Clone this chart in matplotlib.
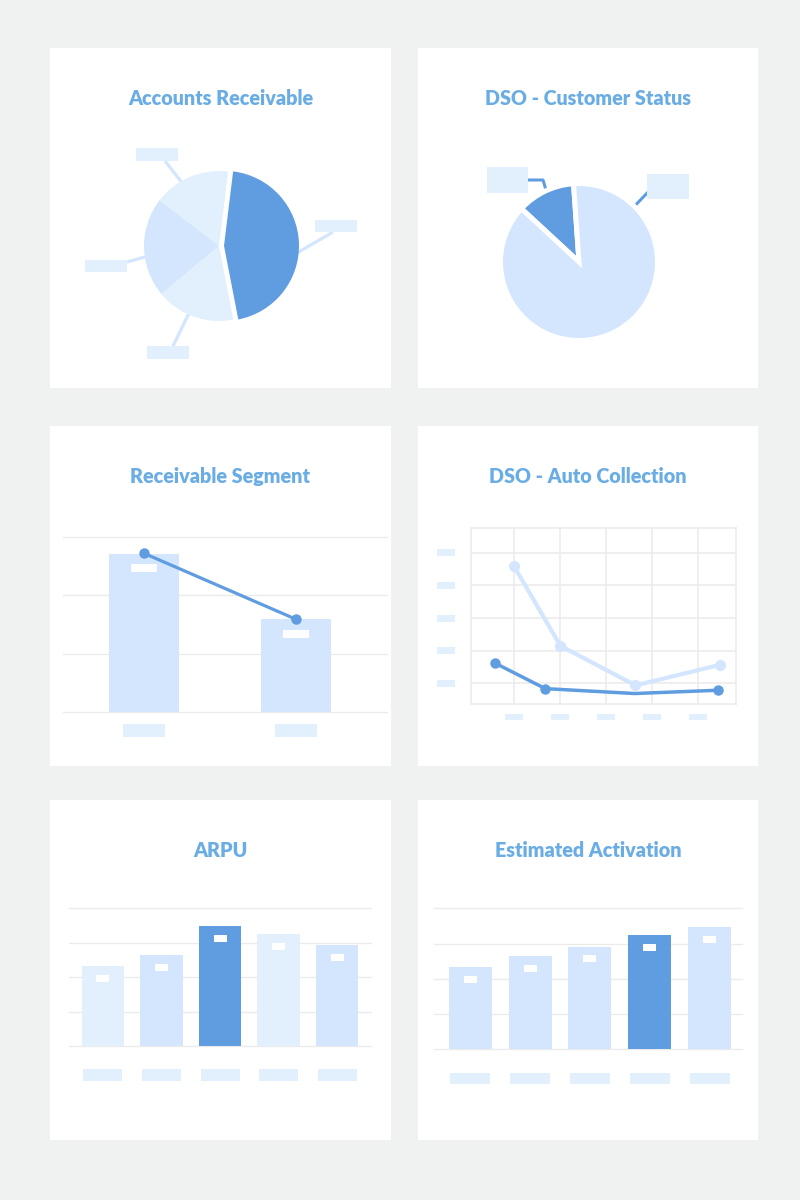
import numpy as np
import matplotlib
matplotlib.use("Agg")
import matplotlib.pyplot as plt
from matplotlib.patches import Rectangle

W, H = 800, 1200

BG = "#f0f2f2"
DARK = "#5f9de0"
MID = "#d3e6fd"
LIGHT = "#e2effd"
GRID = "#ebebeb"
TITLE = "#6aade4"

plt.rcParams["font.family"] = ["Lato", "DejaVu Sans"]

# ── data ──
titles = ["Accounts Receivable", "DSO - Customer Status", "Receivable Segment",
          "DSO - Auto Collection", "ARPU", "Estimated Activation"]

ar_shares = [45, 16.5, 21.5, 17]
ar_colors = [DARK, LIGHT, MID, LIGHT]

status_shares = [12, 88]
status_colors = [DARK, MID]

segment_bars = [2.71, 1.59]
segment_line = [2.72, 1.59]

auto_x_light = [1.0, 2.01, 3.64, 5.48]
auto_y_light = [4.59, 2.15, 0.94, 1.57]
auto_x_dark = [0.59, 1.68, 3.62, 5.43]
auto_y_dark = [1.62, 0.84, 0.69, 0.79]

arpu = [2.33, 2.65, 3.49, 3.25, 2.92]
arpu_colors = [LIGHT, MID, DARK, LIGHT, MID]

activation = [2.33, 2.64, 2.91, 3.24, 3.47]
activation_colors = [MID, MID, MID, DARK, MID]

# ── layout (image pixels, y measured from the top) ──
panels = [(50, 48, 391, 388), (418, 48, 758, 388),
          (50, 426, 391, 766), (418, 426, 758, 766),
          (50, 800, 391, 1140), (418, 800, 758, 1140)]


def Y(y):
    return H - y


def px_axes(x0, y0, x1, y1, zorder=2):
    ax = fig.add_axes([x0 / W, 1 - y1 / H, (x1 - x0) / W, (y1 - y0) / H], zorder=zorder)
    ax.patch.set_alpha(0)
    return ax


def box(ax, x0, y0, w, h, color, z=1):
    # x0, y0 = top-left corner in image pixels
    ax.add_patch(Rectangle((x0, Y(y0) - h), w, h, color=color, lw=0, zorder=z))


fig = plt.figure(figsize=(8, 12), dpi=100, facecolor=BG)
base = fig.add_axes([0, 0, 1, 1], zorder=0)
top = fig.add_axes([0, 0, 1, 1], zorder=10)
top.patch.set_alpha(0)

for (x0, y0, x1, y1), title in zip(panels, titles):
    box(base, x0, y0, x1 - x0, y1 - y0, "white", z=0)
    base.text((x0 + x1) / 2, Y(y0 + 57.3), title, ha="center", va="baseline",
              fontsize=14.2, fontweight="heavy", color=TITLE)

# ── Accounts Receivable pie ──
w1, _ = base.pie(ar_shares, colors=ar_colors, startangle=-79, center=(219, Y(246)),
                 radius=75, explode=[5, 0, 0, 0], wedgeprops=dict(linewidth=0))
leader_angles = [-7, 120, 188, 246]
leader_ends = [(333, 232), (165, 161), (127, 262), (173, 346)]
label_boxes = [(315, 220, 42, 12), (136, 148, 42, 13), (85, 260, 42, 12), (147, 346, 42, 13)]
for wdg, ang, (ex, ey) in zip(w1, leader_angles, leader_ends):
    cx, cy = wdg.center
    sx = cx + (wdg.r - 4) * np.cos(np.radians(ang))
    sy = cy + (wdg.r - 4) * np.sin(np.radians(ang))
    base.plot([sx, ex], [sy, Y(ey)], color=MID, lw=2.3, zorder=0.5, solid_capstyle="butt")
for bx, by, bw, bh in label_boxes:
    box(base, bx, by, bw, bh, LIGHT, z=2)

# ── DSO - Customer Status pie ──
w2, _ = base.pie(status_shares, colors=status_colors, startangle=94, center=(579, Y(262)),
                 radius=78.5, wedgeprops=dict(edgecolor="white", linewidth=3.6))
dk = w2[0]
mid_ang = np.radians((dk.theta1 + dk.theta2) / 2)
sx, sy = dk.center[0] + 70 * np.cos(mid_ang), dk.center[1] + 70 * np.sin(mid_ang)
base.plot([sx, 543, 528], [sy, Y(180), Y(180)], color=DARK, lw=2.2, zorder=0.5)
bg_ang = np.radians(45)
sx, sy = w2[1].center[0] + 70 * np.cos(bg_ang), w2[1].center[1] + 70 * np.sin(bg_ang)
base.plot([sx, 650], [sy, Y(190)], color=DARK, lw=2.2, zorder=0.5)
box(base, 487, 167, 41, 26, LIGHT, z=2)
box(base, 647, 174, 42, 25, LIGHT, z=2)

base.set_xlim(0, W)
base.set_ylim(0, H)
base.set_aspect("auto")
base.axis("off")


def bar_panel(ax, values, colors, width, grid_vals, tag_w, tag_h, tag_off,
              lab_w, lab_h, lab_gap):
    xs = np.arange(len(values))
    for g in grid_vals:
        ax.axhline(g, color=GRID, lw=1.0, zorder=0, clip_on=False)
    ax.bar(xs, values, width=width, color=colors, zorder=2)
    ax.axis("off")
    base_px = ax.transData.transform((0, 0))[1]
    for x, v in zip(xs, values):
        px, py = ax.transData.transform((x, v))
        top.add_patch(Rectangle((px - tag_w / 2, py - tag_off - tag_h), tag_w, tag_h,
                                color="white", lw=0))
        top.add_patch(Rectangle((px - lab_w / 2, base_px - lab_gap - lab_h), lab_w, lab_h,
                                color=LIGHT, lw=0))


# ── Receivable Segment ──
ax3 = px_axes(63, 537, 387, 712)
ax3.set_xlim(-0.533, 1.599)
ax3.set_ylim(0, 3)
bar_panel(ax3, segment_bars, [MID, MID], 0.46, [0, 1, 2, 3], 26, 8, 10.5, 42, 13, 12)
ax3.plot(range(len(segment_line)), segment_line, color=DARK, lw=2.3, marker="o",
         ms=6.5, zorder=4, clip_on=False)

# ── DSO - Auto Collection ──
ax4 = px_axes(470.7, 528.3, 736.3, 704.3)
ax4.set_xlim(0.06, 5.83)
ax4.set_ylim(0.36, 5.75)
ax4.set_xticks([1, 2, 3, 4, 5])
ax4.set_yticks([1, 2, 3, 4, 5])
ax4.grid(True, color=GRID, lw=1.1)
ax4.set_axisbelow(True)
ax4.tick_params(length=0, labelbottom=False, labelleft=False)
for sp in ax4.spines.values():
    sp.set_color(GRID)
    sp.set_linewidth(1.1)
ax4.plot(auto_x_light, auto_y_light, color=MID, lw=3.0, marker="o", ms=7, zorder=3,
         clip_on=False)
ax4.plot(auto_x_dark, auto_y_dark, color=DARK, lw=2.5, marker="o", ms=6.5,
         markevery=[0, 1, 3], zorder=4, clip_on=False)
for t in ax4.get_yticks():
    _, py = ax4.transData.transform((1, t))
    top.add_patch(Rectangle((437, py - 3.5), 18, 7, color=LIGHT, lw=0))
for t in ax4.get_xticks():
    px, _ = ax4.transData.transform((t, 1))
    top.add_patch(Rectangle((px - 9.25, Y(720)), 18.5, 6, color=LIGHT, lw=0))

# ── ARPU ──
ax5 = px_axes(69.3, 908.3, 370.7, 1046)
ax5.set_xlim(-0.576, 4.576)
ax5.set_ylim(0, 4)
bar_panel(ax5, arpu, arpu_colors, 0.72, [0, 1, 2, 3, 4], 13, 7, 9, 39, 12, 22.7)

# ── Estimated Activation ──
ax6 = px_axes(433.7, 908.3, 742, 1049.3)
ax6.set_xlim(-0.61, 4.54)
ax6.set_ylim(0, 4)
bar_panel(ax6, activation, activation_colors, 0.72, [0, 1, 2, 3, 4], 13, 7, 8.7, 40, 11.6, 23.4)

top.set_xlim(0, W)
top.set_ylim(0, H)
top.axis("off")

fig.savefig("out.png", dpi=100, facecolor=BG)
